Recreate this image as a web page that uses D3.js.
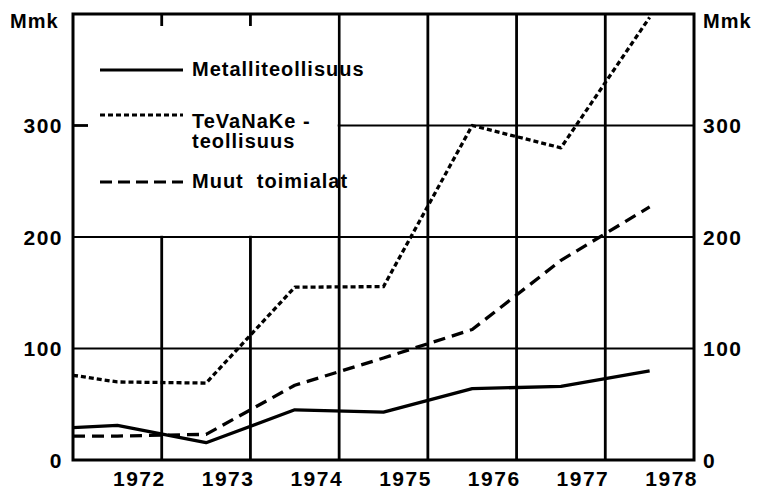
<!DOCTYPE html>
<html>
<head>
<meta charset="utf-8">
<script src="https://cdn.jsdelivr.net/npm/d3@7"></script>
<style>
  body { margin: 0; background: #fff; }
  text { font-family: "Liberation Sans", Arial, sans-serif; font-weight: bold; fill: #000; }
</style>
</head>
<body>
<div id="chart"></div>
<script>
// years on the x axis, values are read at mid-year
const years = [1972, 1973, 1974, 1975, 1976, 1977, 1978];
const yTicks = [0, 100, 200, 300];

// value where each line starts at the left edge, then one value per year
const metalliStart = 29;
const metalli = [31, 15.5, 45, 43, 64, 66, 80];
const tevanakeStart = 76;
const tevanake = [70, 69, 155, 155.5, 300, 280, 397];
const muutStart = 21.5;
const muut = [21.5, 23, 67, 91.5, 117, 179, 227];

const W = 760, H = 490;
const margin = {top: 14, right: 66, bottom: 30, left: 73};

const svg = d3.select("#chart").append("svg")
  .attr("width", W)
  .attr("height", H);

const x = d3.scaleLinear().domain([1972, 1979]).range([margin.left, W - margin.right]);
const y = d3.scaleLinear().domain([0, 400]).range([H - margin.bottom, margin.top]);

const x0 = x.range()[0], x1 = x.range()[1];
const y0 = y.range()[0], y1 = y.range()[1];

// grid
const grid = svg.append("g").attr("stroke", "#000");
grid.selectAll("line.v")
  .data(years.slice(1))
  .join("line")
  .attr("class", "v")
  .attr("x1", d => x(d)).attr("x2", d => x(d))
  .attr("y1", y0).attr("y2", y1)
  .attr("stroke-width", 2.8);
grid.selectAll("line.h")
  .data(yTicks.slice(1))
  .join("line")
  .attr("class", "h")
  .attr("x1", x0).attr("x2", x1)
  .attr("y1", d => y(d)).attr("y2", d => y(d))
  .attr("stroke-width", 2.2);

// white legend area hides the grid in the upper left
svg.append("rect")
  .attr("x", x0)
  .attr("y", y1)
  .attr("width", x(1975) - x0 - 1.5)
  .attr("height", y(200) - y1 - 1.2)
  .attr("fill", "#fff");

// small ticks left over inside the legend area
svg.append("g").selectAll("line")
  .data(years.slice(1).filter(d => d < 1975))
  .join("line")
  .attr("x1", d => x(d)).attr("x2", d => x(d))
  .attr("y1", y1).attr("y2", y1 + 12)
  .attr("stroke", "#000").attr("stroke-width", 2.8);
svg.append("line")
  .attr("x1", x0).attr("x2", x0 + 15)
  .attr("y1", y(300)).attr("y2", y(300))
  .attr("stroke", "#000").attr("stroke-width", 2.8);

// series
const pts = (start, vals) => [{t: years[0], v: start}]
  .concat(vals.map((v, i) => ({t: years[i] + 0.5, v: v})));
const line = d3.line().x(d => x(d.t)).y(d => y(d.v));

const series = [
  {name: "metalli", data: pts(metalliStart, metalli), dash: null},
  {name: "tevanake", data: pts(tevanakeStart, tevanake), dash: "5,3"},
  {name: "muut", data: pts(muutStart, muut), dash: "12,7"}
];

svg.append("g").selectAll("path")
  .data(series)
  .join("path")
  .attr("d", d => line(d.data))
  .attr("fill", "none")
  .attr("stroke", "#000")
  .attr("stroke-width", 3.3)
  .attr("stroke-linejoin", "round")
  .attr("stroke-dasharray", d => d.dash);

// frame
svg.append("rect")
  .attr("x", x0).attr("y", y1)
  .attr("width", x1 - x0).attr("height", y0 - y1)
  .attr("fill", "none")
  .attr("stroke", "#000")
  .attr("stroke-width", 3);

// axis labels
const axisFont = g => g.style("font-size", "21px").style("letter-spacing", "1.5px");
svg.append("g").call(axisFont).selectAll("text")
  .data(yTicks)
  .join("text")
  .attr("x", x0 - 10)
  .attr("y", d => y(d))
  .attr("dy", "0.36em")
  .attr("text-anchor", "end")
  .text(d => d);
svg.append("g").call(axisFont).selectAll("text")
  .data(yTicks)
  .join("text")
  .attr("x", x1 + 9)
  .attr("y", d => y(d))
  .attr("dy", "0.36em")
  .text(d => d);
svg.append("text").attr("x", 10).attr("y", 28)
  .style("font-size", "20px").style("letter-spacing", "1px").text("Mmk");
svg.append("text").attr("x", x1 + 9).attr("y", 28)
  .style("font-size", "20px").style("letter-spacing", "1px").text("Mmk");

svg.append("g").call(axisFont).selectAll("text")
  .data(years)
  .join("text")
  .attr("x", d => x(d + 1) + 4)
  .attr("y", H - 4)
  .attr("text-anchor", "end")
  .text(d => d);

// legend
const legend = svg.append("g").style("font-size", "20px").style("letter-spacing", "1px");
const legendItems = [
  {dash: null, ly: 70, lines: ["Metalliteollisuus"], ty: 76},
  {dash: "5,3", ly: 115, lines: ["TeVaNaKe -", "teollisuus"], ty: 128},
  {dash: "12,6", ly: 182, lines: ["Muut  toimialat"], ty: 188}
];
legendItems.forEach(it => {
  legend.append("line")
    .attr("x1", 100).attr("x2", 183)
    .attr("y1", it.ly).attr("y2", it.ly)
    .attr("stroke", "#000").attr("stroke-width", 2.8)
    .attr("stroke-dasharray", it.dash);
  it.lines.forEach((s, i) => {
    legend.append("text")
      .attr("x", 192)
      .attr("y", it.ty + i * 20)
      .attr("xml:space", "preserve")
      .style("white-space", "pre")
      .text(s);
  });
});
</script>
</body>
</html>
